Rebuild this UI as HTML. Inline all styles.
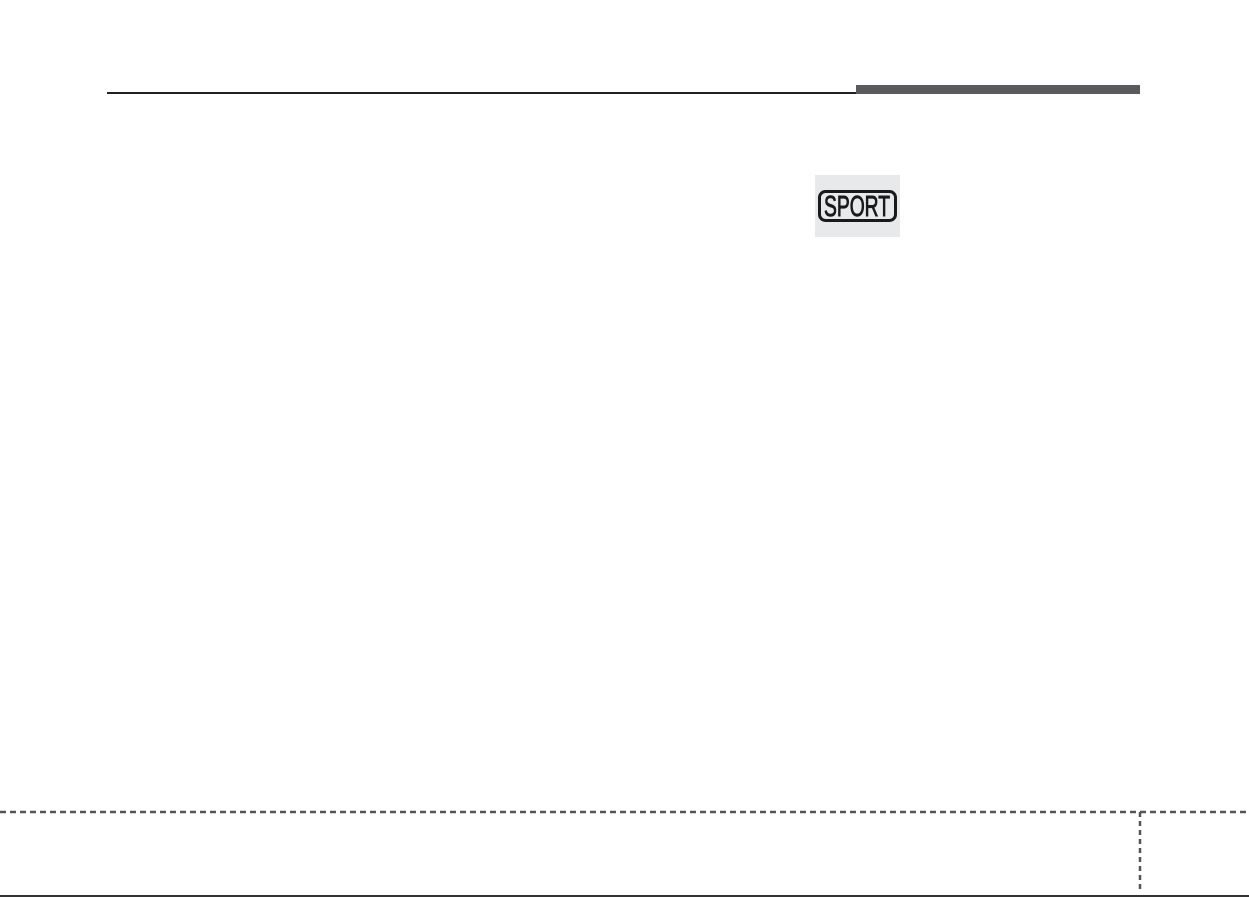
<!DOCTYPE html>
<html><head><meta charset="utf-8"><style>
html,body{margin:0;padding:0;background:#fff;width:1249px;height:897px;overflow:hidden;position:relative;font-family:"Liberation Sans",sans-serif}
.a{position:absolute}
</style></head><body>
<div class="a" style="left:107px;top:92px;width:749px;height:1.5px;background:#222"></div>
<div class="a" style="left:856px;top:85px;width:284px;height:9px;background:#5a5a5c"></div>
<div class="a" style="left:815px;top:175px;width:85px;height:62px;background:#e8e9ea"></div>
<svg class="a" style="left:0;top:0" width="1249" height="897">
<rect x="819.5" y="191.5" width="76" height="29" rx="6" fill="none" stroke="#1a1a1a" stroke-width="3"/>
<text x="824" y="216" font-family="Liberation Sans, sans-serif" font-size="29" fill="#1a1a1a" stroke="#1a1a1a" stroke-width="0.9" textLength="66" lengthAdjust="spacingAndGlyphs">SPORT</text>
<line x1="0" y1="812" x2="1249" y2="812" stroke="#555" stroke-width="2.5" stroke-dasharray="6,4"/>
<line x1="1140" y1="812" x2="1140" y2="891" stroke="#555" stroke-width="2.5" stroke-dasharray="5,4"/>
<line x1="0" y1="896" x2="1249" y2="896" stroke="#333" stroke-width="2"/>
</svg>
</body></html>
